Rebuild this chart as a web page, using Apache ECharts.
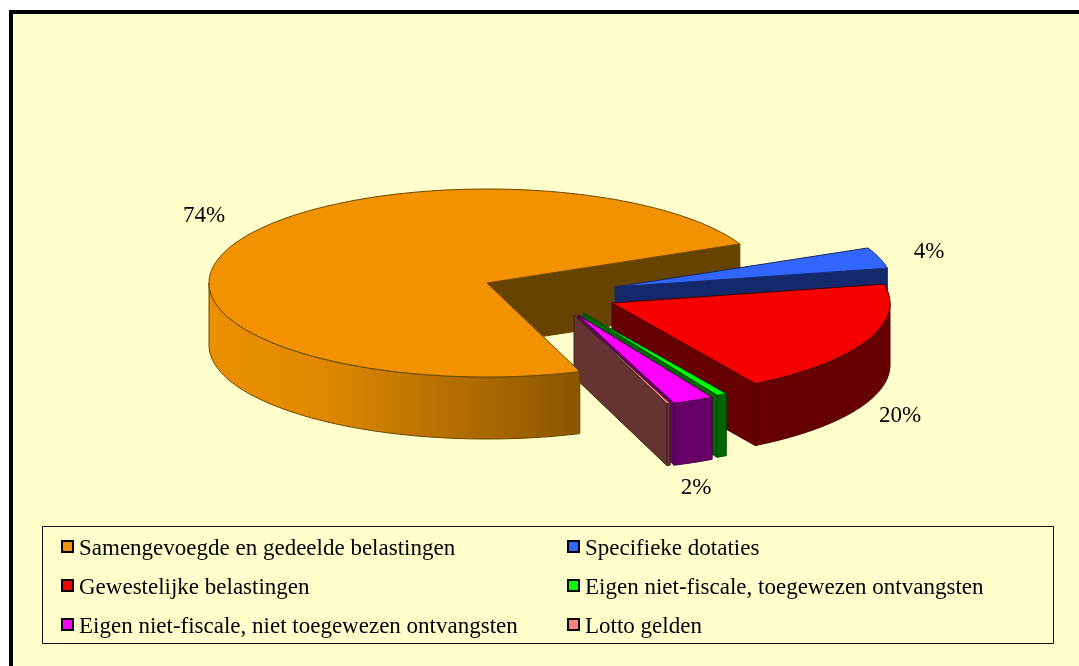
<!DOCTYPE html>
<html>
<head>
<meta charset="utf-8">
<style>
html,body{margin:0;padding:0;background:#fff;}
#pie3d{width:1079px;height:666px;}
</style>
<script src="https://cdn.jsdelivr.net/npm/echarts@6/dist/echarts.min.js"></script>
</head>
<body>
<div id="pie3d"></div>
<script>
// data (percent)
var categories = ['Samengevoegde en gedeelde belastingen','Specifieke dotaties','Gewestelijke belastingen',
    'Eigen niet-fiscale, toegewezen ontvangsten','Eigen niet-fiscale, niet toegewezen ontvangsten','Lotto gelden'];
var shares = [73.6,3.6,19.6,0.6,2.4,0.2];

// colours
var topColors = ['#f39200','#3366ff','#f70000','#00ff00','#ff00ff','#ff8080'];
var wallColors = ['#664400','#14296b','#660000','#006600','#660066','#663333'];
var edgeColors = ['#6b4500','#14296b','#4a0000','#004400','#440044','#442222'];

// pie geometry, pixels
var centerX = 487, centerY = 283, radiusX = 278, radiusY = 94, depth = 62;
var firstAngle = -70.5; // where the first slice starts, clockwise from there
var explodeX = [0,128,125,96,91,87];
var explodeY = [0,4,20,30,32,32];
var labelX = [204,929,900,696];
var labelY = [216,252,416,488];

var total = shares.reduce(function(a,b){return a+b;},0);

function sliceAngles(i){
    var a = firstAngle;
    for(var k=0;k<i;k++){ a -= shares[k]/total*360; }
    return [a, a - shares[i]/total*360];
}
function rimPoint(cx,cy,deg,down){
    var r = deg*Math.PI/180;
    return [cx+radiusX*Math.cos(r), cy-radiusY*Math.sin(r)+(down||0)];
}
function arcPoints(cx,cy,from,to,down){
    var n = Math.max(2,Math.ceil(Math.abs(to-from)));
    var pts = [];
    for(var k=0;k<=n;k++){ pts.push(rimPoint(cx,cy,from+(to-from)*k/n,down)); }
    return pts;
}
function wallShape(cx,cy,deg){
    var rim = rimPoint(cx,cy,deg);
    return [[cx,cy],rim,[rim[0],rim[1]+depth],[cx,cy+depth]];
}

function renderSlice(i){
    return function(params,api){
        var ang = sliceAngles(i), a1 = ang[0], a2 = ang[1];
        var cx = centerX+explodeX[i], cy = centerY+explodeY[i];
        var kids = [];
        // the first slice has to sit in front of the others, except its cut face
        var z = i==0 ? 50 : 10+i;
        if(Math.cos(a2*Math.PI/180)>0){
            kids.push({type:'polygon',z2:i==0?1:z,shape:{points:wallShape(cx,cy,a2)},
                style:{fill:wallColors[i],stroke:edgeColors[i],lineWidth:1}});
        }
        // outer curved wall, only the part facing the viewer
        var segs = [];
        for(var turn=-2;turn<=0;turn++){
            var lo = Math.max(a2,180+turn*360), hi = Math.min(a1,360+turn*360);
            if(hi>lo){ segs.push([hi,lo]); }
        }
        segs.forEach(function(s){
            var pts = arcPoints(cx,cy,s[0],s[1]).concat(arcPoints(cx,cy,s[1],s[0],depth));
            var fill = wallColors[i];
            if(i==0){
                fill = new echarts.graphic.LinearGradient(0,0,1,0,[
                    {offset:0,color:'#ec8f00'},{offset:0.3,color:'#e08900'},
                    {offset:0.6,color:'#bb7300'},{offset:1,color:'#8a5600'}]);
            }
            kids.push({type:'polygon',z2:z,shape:{points:pts},
                style:{fill:fill,stroke:edgeColors[i],lineWidth:1}});
        });
        var top = [[cx,cy]].concat(arcPoints(cx,cy,a1,a2));
        kids.push({type:'polygon',z2:z+1,shape:{points:top},
            style:{fill:topColors[i],stroke:edgeColors[i],lineWidth:1}});
        return {type:'group',children:kids};
    };
}

var series = [];
var labelIdx = 0;
for(var i=0;i<categories.length;i++){
    series.push({
        name:categories[i],
        type:'custom',
        coordinateSystem:'none',
        silent:true,
        animation:false,
        itemStyle:{color:topColors[i]},
        data:[[shares[i]]],
        renderItem:renderSlice(i)
    });
}

// percent labels, slices under 1% have none
var graphics = [
    {type:'rect',z:-2,shape:{x:11,y:12,width:1200,height:800},
        style:{fill:'#ffffcc',stroke:'#000',lineWidth:4}},
    {type:'rect',z:-1,shape:{x:42.5,y:526.5,width:1011,height:117},
        style:{fill:'#ffffcc',stroke:'#111',lineWidth:1}}
];
shares.forEach(function(v){
    if(v<1){ return; }
    graphics.push({type:'text',z:100,x:labelX[labelIdx],y:labelY[labelIdx],
        style:{text:Math.round(v)+'%',fill:'#000',font:'23px "Liberation Serif"',align:'center',verticalAlign:'middle'}});
    labelIdx++;
});

function legendItems(list){
    return list.map(function(i){
        return {name:categories[i],itemStyle:{color:topColors[i],borderColor:'#000',borderWidth:2}};
    });
}
function legendBox(list,x){
    return {
        orient:'vertical',left:x,top:533,padding:0,
        icon:'rect',itemWidth:11,itemHeight:11,itemGap:12,
        selectedMode:false,
        formatter:'{t|{name}}',
        textStyle:{color:'#000',padding:[0,0,0,1],
            rich:{t:{fontFamily:'Liberation Serif',fontSize:23,color:'#000',lineHeight:23,padding:[4,0,0,0]}}},
        data:legendItems(list)
    };
}

var chart = echarts.init(document.getElementById('pie3d'),null,{renderer:'canvas'});
chart.setOption({
    backgroundColor:'#fff',
    animation:false,
    legend:[legendBox([0,2,4],61),legendBox([1,3,5],567)],
    graphic:graphics,
    series:series
});
</script>
</body>
</html>
